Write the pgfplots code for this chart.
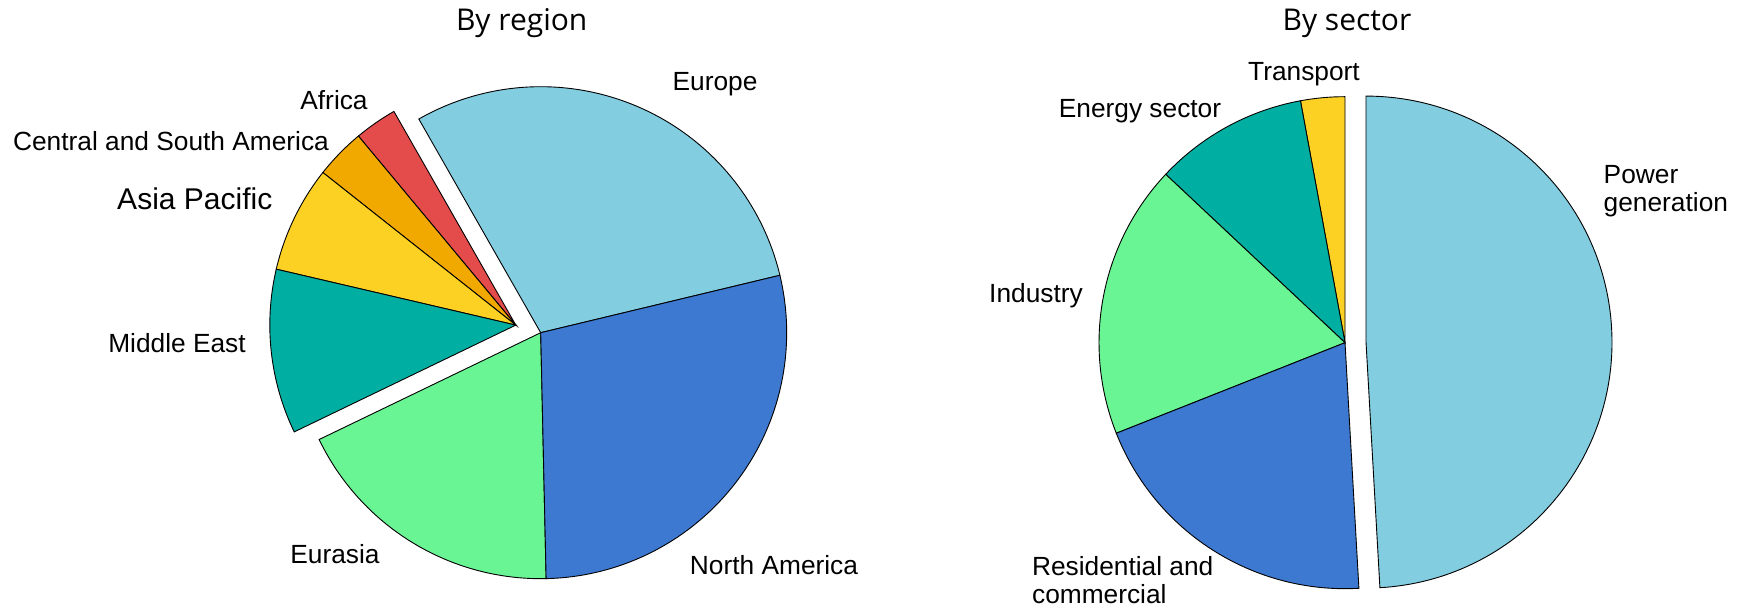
\documentclass[border=0pt]{standalone}
\usepackage{fontspec}
\setmainfont{Liberation Sans}
\newfontfamily\titlefont{Open Sans}
\usepackage{pgfplots}
\pgfplotsset{compat=1.18}
\definecolor{cLightBlue}{HTML}{83CDE1}
\definecolor{cBlue}{HTML}{3D78D1}
\definecolor{cGreen}{HTML}{69F593}
\definecolor{cTeal}{HTML}{00AFA1}
\definecolor{cYellow}{HTML}{FDD124}
\definecolor{cOrange}{HTML}{F1A900}
\definecolor{cRed}{HTML}{E44B4B}

% slice: #1 cx, #2 cy, #3 start angle, #4 share in percent, #5 colour ; radius 246 px
\newcommand{\slice}[5]{%
  \pgfmathsetmacro{\sa}{#3}%
  \pgfmathsetmacro{\sb}{#3+3.6*#4}%
  \pgfmathsetmacro{\sx}{#1+246*cos(\sa)}%
  \pgfmathsetmacro{\sy}{#2+246*sin(\sa)}%
  \edef\doslice{\noexpand\addplot[draw=black, line width=0.45pt, fill=#5]
    coordinates {(#1,#2) (\sx,\sy)} arc[start angle=\sa, end angle=\sb, radius=123pt] -- cycle;}%
  \doslice
  \global\let\nextangle\sb
}

\begin{document}
\begin{tikzpicture}
\useasboundingbox (0,0) rectangle (869pt,307pt);
\begin{axis}[
  at={(0,0)}, anchor=south west,
  x=0.5pt, y=0.5pt,
  xmin=0, xmax=1738, ymin=0, ymax=614,
  hide axis, clip=false,
]
% ---- By region (values in %) ----
% main part, centre (540.7, 281.3)
\slice{540.7}{281.3}{13.5}{29.5}{cLightBlue}       % Europe
% exploded group, centre offset 26 px at 163 deg
\slice{515.8}{288.9}{\nextangle}{2.8}{cRed}        % Africa
\slice{515.8}{288.9}{\nextangle}{3.3}{cOrange}     % Central and South America
\slice{515.8}{288.9}{\nextangle}{7.0}{cYellow}     % Asia Pacific
\slice{515.8}{288.9}{\nextangle}{10.8}{cTeal}      % Middle East
\slice{540.7}{281.3}{\nextangle}{18.2}{cGreen}     % Eurasia
\slice{540.7}{281.3}{\nextangle}{28.4}{cBlue}      % North America

% ---- By sector (values in %) ----
\slice{1345}{271.3}{90}{2.9}{cYellow}              % Transport
\slice{1345}{271.3}{\nextangle}{10.1}{cTeal}       % Energy sector
\slice{1345}{271.3}{\nextangle}{18.0}{cGreen}      % Industry
\slice{1345}{271.3}{\nextangle}{19.9}{cBlue}       % Residential and commercial
\slice{1366}{271.9}{\nextangle}{49.1}{cLightBlue}  % Power generation

% ---- titles ----
\node[anchor=base, font=\titlefont\fontsize{15}{18}\selectfont] at (axis cs:521.7,583) {By region};
\node[anchor=base, font=\titlefont\fontsize{15}{18}\selectfont] at (axis cs:1347,583) {By sector};

% ---- labels ----
\tikzset{lab/.style={inner sep=0pt, font=\fontsize{13.15}{14.2}\selectfont}}
\node[lab, anchor=base] at (axis cs:715,523) {Europe};
\node[lab, anchor=base] at (axis cs:334,504) {Africa};
\node[lab, anchor=base east] at (axis cs:329.3,463) {Central and South America};
\node[lab, anchor=base east, font=\fontsize{15}{17}\selectfont] at (axis cs:272.7,404) {Asia Pacific};
\node[lab, anchor=base] at (axis cs:177,261.5) {Middle East};
\node[lab, anchor=base] at (axis cs:335,50) {Eurasia};
\node[lab, anchor=base] at (axis cs:774,39) {North America};

\node[lab, anchor=base] at (axis cs:1304,533.3) {Transport};
\node[lab, anchor=base] at (axis cs:1140,496.7) {Energy sector};
\node[lab, anchor=base] at (axis cs:1036,311.3) {Industry};
\node[lab, anchor=base west, align=left] at (axis cs:1603.3,402.3) {Power\\generation};
\node[lab, anchor=base west, align=left] at (axis cs:1031.7,10.5) {Residential and\\commercial};
\end{axis}
\end{tikzpicture}
\end{document}
